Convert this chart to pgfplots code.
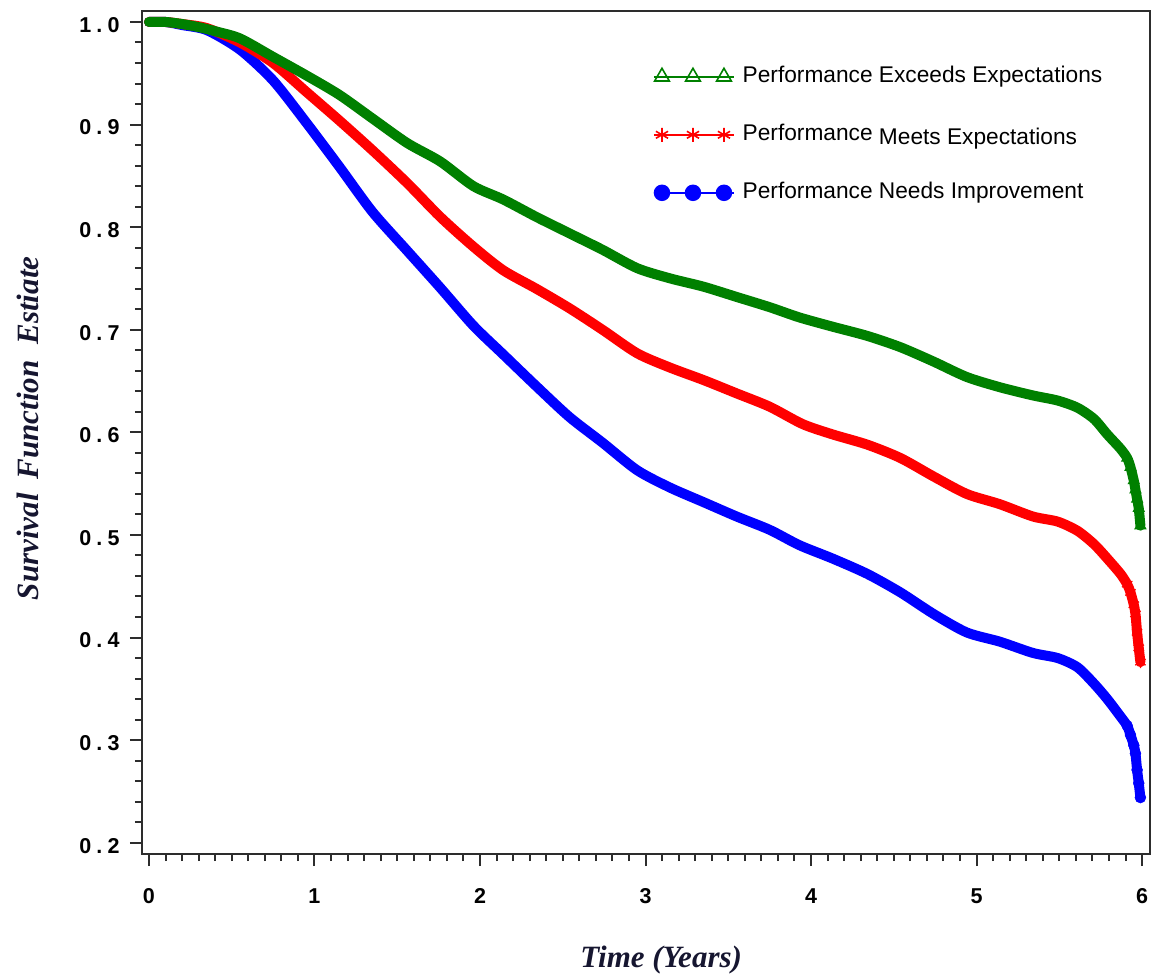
\documentclass[border=0pt]{standalone}
\usepackage{pgfplots}
\pgfplotsset{compat=1.18}
\usepackage{pgfplotstable}
\usepackage{fontspec}
\setmainfont{Liberation Sans}
\newfontfamily\tickfont{Liberation Sans}[LetterSpace=24]
\newfontfamily\labelfont{Liberation Serif}

\definecolor{sasgreen}{RGB}{0,128,0}
\definecolor{sasred}{RGB}{255,0,0}
\definecolor{sasblue}{RGB}{0,0,255}
\definecolor{axisgray}{RGB}{45,45,45}
\definecolor{labelink}{RGB}{22,22,48}

% Kaplan-Meier survival estimates by performance rating (time in years)
\pgfplotstableread{
t     S
0.00  1.000
0.10  1.000
0.20  0.998
0.30  0.995
0.40  0.991
0.55  0.984
0.75  0.966
0.95  0.948
1.15  0.929
1.35  0.906
1.56  0.882
1.76  0.864
1.96  0.840
2.14  0.827
2.34  0.810
2.54  0.794
2.74  0.778
2.95  0.760
3.15  0.750
3.35  0.742
3.55  0.732
3.75  0.722
3.93  0.712
4.13  0.703
4.34  0.694
4.54  0.683
4.74  0.669
4.94  0.654
5.14  0.644
5.34  0.636
5.49  0.631
5.61  0.624
5.71  0.613
5.79  0.598
5.87  0.584
5.91  0.575
5.93  0.566
5.95  0.553
5.96  0.544
5.97  0.535
5.98  0.526
5.99  0.509
}\exceeds

\pgfplotstableread{
t     S
0.00  1.000
0.10  1.000
0.20  0.998
0.35  0.994
0.55  0.980
0.75  0.960
0.95  0.932
1.15  0.904
1.35  0.875
1.56  0.843
1.76  0.810
1.96  0.781
2.14  0.758
2.34  0.740
2.54  0.721
2.74  0.700
2.95  0.677
3.15  0.663
3.35  0.651
3.55  0.638
3.75  0.625
3.95  0.608
4.13  0.598
4.34  0.588
4.54  0.575
4.74  0.557
4.94  0.540
5.14  0.530
5.34  0.518
5.49  0.513
5.61  0.504
5.71  0.491
5.79  0.477
5.87  0.462
5.91  0.452
5.93  0.444
5.95  0.432
5.96  0.423
5.97  0.405
5.98  0.390
5.99  0.376
}\meets

\pgfplotstableread{
t     S
0.00  1.000
0.10  1.000
0.20  0.997
0.35  0.992
0.55  0.973
0.75  0.943
0.95  0.902
1.15  0.859
1.35  0.815
1.56  0.777
1.76  0.741
1.96  0.704
2.14  0.676
2.34  0.645
2.54  0.615
2.74  0.590
2.95  0.563
3.15  0.546
3.35  0.532
3.55  0.518
3.75  0.505
3.93  0.490
4.13  0.477
4.34  0.462
4.54  0.444
4.74  0.423
4.94  0.405
5.14  0.396
5.34  0.385
5.49  0.380
5.61  0.371
5.71  0.355
5.79  0.340
5.87  0.323
5.91  0.314
5.93  0.305
5.95  0.295
5.96  0.287
5.97  0.271
5.98  0.258
5.99  0.244
}\needs

\begin{document}
\begin{tikzpicture}
\begin{axis}[
  name=ax,
  scale only axis,
  width=1008bp, height=843bp,
  xmin=-0.042, xmax=6.048,
  ymin=0.189, ymax=1.0107,
  xtick={0,1,2,3,4,5,6},
  ytick={0.2,0.3,0.4,0.5,0.6,0.7,0.8,0.9,1.0},
  minor x tick num=9,
  minor y tick num=4,
  tick align=outside,
  tick pos=left,
  major tick length=12bp,
  minor tick length=7bp,
  tick style={line width=2bp, color=axisgray},
  axis line style={line width=2.5bp, color=axisgray},
  /pgf/number format/assume math mode=true,
  ticklabel style={font=\tickfont\bfseries\fontsize{21.5bp}{24bp}\selectfont, text=black},
  yticklabel style={/pgf/number format/.cd, fixed, fixed zerofill, precision=1, /tikz/.cd, xshift=-7bp, yshift=-3bp},
  xticklabel style={yshift=-19bp},
  xlabel={Time (Years)},
  ylabel={Survival\hspace{14bp}Function\hspace{16bp}Estiate},
  label style={font=\labelfont\bfseries\itshape\fontsize{31bp}{35bp}\selectfont, text=labelink},
  xlabel style={at={(axis description cs:0.515,-0.126)}, anchor=center},
  ylabel style={at={(axis description cs:-0.113,0.505)}, anchor=center},
  legend cell align=left,
  legend style={
    draw=none, fill=none,
    at={(axis description cs:0.504,0.937)}, anchor=north west,
    font=\fontsize{22.7bp}{25bp}\selectfont,
    row sep=37bp, column sep=8bp,
    nodes={inner sep=0pt, text height=16bp, text depth=5bp},
  },
  legend image code/.code={
    \draw[#1, mark=none] (0bp,0bp) -- (80bp,0bp);
    \draw[#1, only marks] plot coordinates {(8bp,0bp) (39bp,0bp) (70bp,0bp)};
  },
]

% survival curves, drawn as heavy bands
\addplot[sasblue, line width=10bp, smooth, tension=0.45, line join=round, line cap=round, forget plot] table[x=t, y=S] {\needs};
\addplot[sasred,  line width=10bp, smooth, tension=0.45, line join=round, line cap=round, forget plot] table[x=t, y=S] {\meets};
\addplot[sasgreen, line width=10bp, smooth, tension=0.45, line join=round, line cap=round, forget plot] table[x=t, y=S] {\exceeds};

% individual marks in the sparse tail
\addplot[sasblue, only marks, mark=*, mark size=5.5bp, forget plot, restrict x to domain=5.9:6.1] table[x=t, y=S] {\needs};
\addplot[sasred, only marks, mark=asterisk, mark size=6bp, mark options={line width=1.3bp}, forget plot, restrict x to domain=5.9:6.1] table[x=t, y=S] {\meets};
\addplot[sasgreen, only marks, mark=triangle, mark size=6bp, mark options={line width=1.3bp, fill=white}, forget plot, restrict x to domain=5.9:6.1] table[x=t, y=S] {\exceeds};

\addlegendimage{sasgreen, line width=1.5bp, mark=triangle, mark size=8.5bp, mark options={solid, line width=1.6bp, fill=white}}
\addlegendentry{Performance Exceeds Expectations}
\addlegendimage{sasred, line width=1.5bp, mark=asterisk, mark size=7bp, mark options={solid, line width=1.6bp}}
\addlegendentry{Performance \raisebox{-4bp}{Meets Expectations}}
\addlegendimage{sasblue, line width=1.5bp, mark=*, mark size=7.5bp, mark options={solid}}
\addlegendentry{Performance Needs Improvement}
\end{axis}
\pgfresetboundingbox
\path[use as bounding box] ([shift={(-142bp,-123bp)}]ax.south west) rectangle ([shift={(5bp,11bp)}]ax.north east);
\end{tikzpicture}
\end{document}
